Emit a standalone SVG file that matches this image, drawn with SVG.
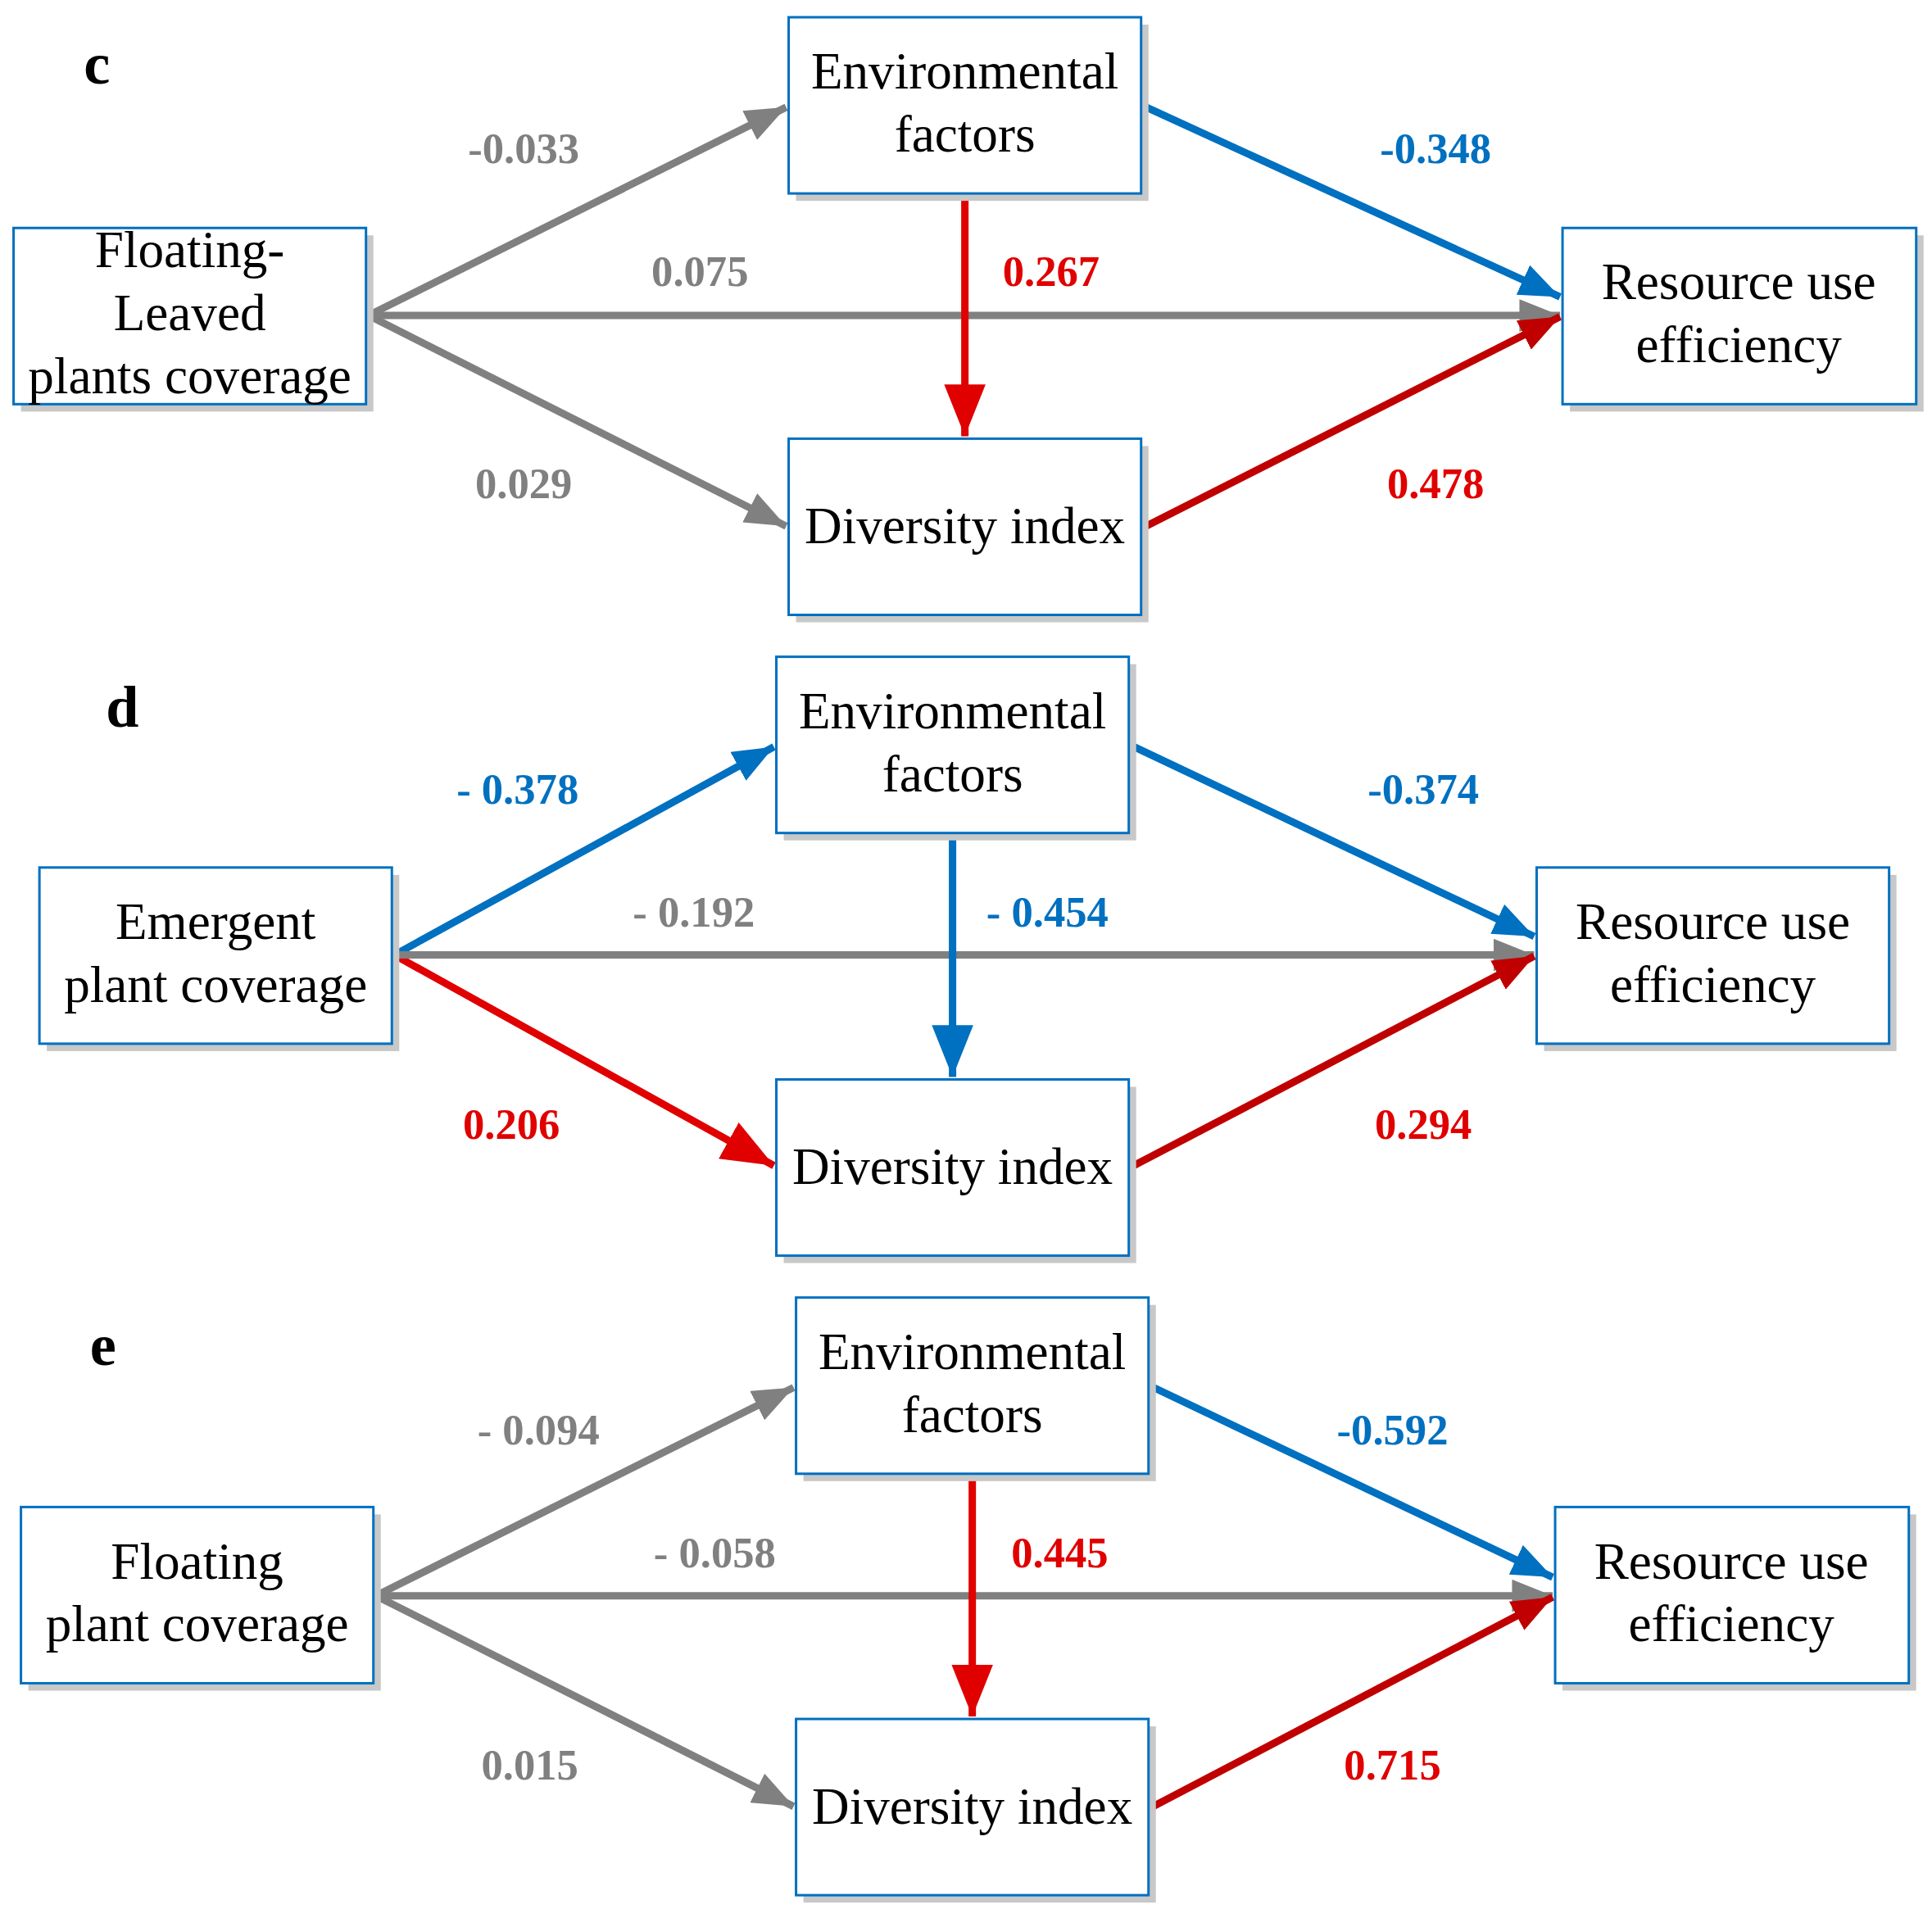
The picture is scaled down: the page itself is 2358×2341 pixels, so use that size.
<svg xmlns="http://www.w3.org/2000/svg" width="2358" height="2341" viewBox="0 0 2358 2341">
<style>
.box{fill:#fff;stroke:#0070C0;stroke-width:2}
.sh{fill:#c8c8c8}
.nt{font-family:"Liberation Serif",serif;font-size:42px;text-anchor:middle;fill:#000}
.lb{font-family:"Liberation Serif",serif;font-size:35px;font-weight:bold;text-anchor:middle}
.pl{font-family:"Liberation Serif",serif;font-size:48px;font-weight:bold;fill:#000}
.g{fill:#808080}.b{fill:#0070C0}.r{fill:#E00000}.dr{fill:#C00000}
.a{fill:none;stroke-width:6}
</style>
<defs>
<marker id="mg" viewBox="0 0 10 8" refX="10" refY="4" markerWidth="5.5" markerHeight="4.4" orient="auto" markerUnits="strokeWidth"><path d="M0,0L10,4L0,8z" fill="#808080"/></marker>
<marker id="mb" viewBox="0 0 10 8" refX="10" refY="4" markerWidth="5.5" markerHeight="4.4" orient="auto" markerUnits="strokeWidth"><path d="M0,0L10,4L0,8z" fill="#0070C0"/></marker>
<marker id="mr" viewBox="0 0 10 8" refX="10" refY="4" markerWidth="5.5" markerHeight="4.4" orient="auto" markerUnits="strokeWidth"><path d="M0,0L10,4L0,8z" fill="#C00000"/></marker>
<marker id="mrv" viewBox="0 0 10 8" refX="10" refY="4" markerWidth="7" markerHeight="5.6" orient="auto" markerUnits="strokeWidth"><path d="M0,0L10,4L0,8z" fill="#E00000"/></marker>
<marker id="mbv" viewBox="0 0 10 8" refX="10" refY="4" markerWidth="7" markerHeight="5.6" orient="auto" markerUnits="strokeWidth"><path d="M0,0L10,4L0,8z" fill="#0070C0"/></marker>
</defs>
<rect width="2358" height="2341" fill="#fff"/>
<g transform="scale(1.504)">
<g id="connectors">
<line class="a" stroke="#808080" x1="299" y1="256" x2="638" y2="87" marker-end="url(#mg)"/>
<line class="a" stroke="#808080" x1="299" y1="256" x2="638" y2="427" marker-end="url(#mg)"/>
<line class="a" stroke="#808080" x1="299" y1="256" x2="1266" y2="256" marker-end="url(#mg)"/>
<line class="a" stroke="#0070C0" x1="928" y1="86" x2="1266" y2="241" marker-end="url(#mb)"/>
<line class="a" stroke="#C00000" x1="928" y1="428" x2="1266" y2="257" marker-end="url(#mr)"/>
<line class="a" stroke="#E00000" stroke-width="4.5" x1="783" y1="158" x2="783" y2="354" marker-end="url(#mrv)"/>
<line class="a" stroke="#0070C0" x1="320" y1="775" x2="628" y2="606" marker-end="url(#mb)"/>
<line class="a" stroke="#E00000" x1="320" y1="775" x2="628" y2="946" marker-end="url(#mrv)"/>
<line class="a" stroke="#808080" x1="320" y1="775" x2="1245" y2="775" marker-end="url(#mg)"/>
<line class="a" stroke="#0070C0" x1="918" y1="605" x2="1245" y2="760" marker-end="url(#mb)"/>
<line class="a" stroke="#C00000" x1="918" y1="947" x2="1245" y2="776" marker-end="url(#mr)"/>
<line class="a" stroke="#0070C0" stroke-width="4.5" x1="773" y1="677" x2="773" y2="874" marker-end="url(#mbv)"/>
<line class="a" stroke="#808080" x1="305" y1="1295" x2="644" y2="1126" marker-end="url(#mg)"/>
<line class="a" stroke="#808080" x1="305" y1="1295" x2="644" y2="1466" marker-end="url(#mg)"/>
<line class="a" stroke="#808080" x1="305" y1="1295" x2="1260" y2="1295" marker-end="url(#mg)"/>
<line class="a" stroke="#0070C0" x1="934" y1="1125" x2="1260" y2="1280" marker-end="url(#mb)"/>
<line class="a" stroke="#C00000" x1="934" y1="1467" x2="1260" y2="1296" marker-end="url(#mr)"/>
<line class="a" stroke="#E00000" stroke-width="4.5" x1="789" y1="1197" x2="789" y2="1393" marker-end="url(#mrv)"/>
</g>
<g id="labels">
<text class="pl" x="68" y="68">c</text>
<text class="pl" x="86" y="590">d</text>
<text class="pl" x="73" y="1108">e</text>
<text class="lb g" x="425" y="132">-0.033</text>
<text class="lb g" x="568" y="232">0.075</text>
<text class="lb g" x="425" y="404">0.029</text>
<text class="lb b" x="1165" y="132">-0.348</text>
<text class="lb r" x="853" y="232">0.267</text>
<text class="lb r" x="1165" y="404">0.478</text>
<text class="lb b" x="420" y="652">- 0.378</text>
<text class="lb g" x="563" y="752">- 0.192</text>
<text class="lb r" x="415" y="924">0.206</text>
<text class="lb b" x="1155" y="652">-0.374</text>
<text class="lb b" x="850" y="752">- 0.454</text>
<text class="lb r" x="1155" y="924">0.294</text>
<text class="lb g" x="437" y="1172">- 0.094</text>
<text class="lb g" x="580" y="1272">- 0.058</text>
<text class="lb g" x="430" y="1444">0.015</text>
<text class="lb b" x="1130" y="1172">-0.592</text>
<text class="lb r" x="860" y="1272">0.445</text>
<text class="lb r" x="1130" y="1444">0.715</text>
</g>
<g id="c-env"><rect class="sh" x="646" y="20" width="286" height="143"/><rect class="box" x="640" y="14" width="286" height="143"/><text class="nt" x="783" y="72">Environmental</text><text class="nt" x="783" y="123">factors</text></g>
<g id="c-div"><rect class="sh" x="646" y="362" width="286" height="143"/><rect class="box" x="640" y="356" width="286" height="143"/><text class="nt" x="783" y="441">Diversity index</text></g>
<g id="c-left"><rect class="sh" x="17" y="191" width="286" height="143"/><rect class="box" x="11" y="185" width="286" height="143"/><text class="nt" x="154" y="217">Floating-</text><text class="nt" x="154" y="268">Leaved</text><text class="nt" x="154" y="319">plants coverage</text></g>
<g id="c-right"><rect class="sh" x="1274" y="191" width="287" height="143"/><rect class="box" x="1268" y="185" width="287" height="143"/><text class="nt" x="1411" y="243">Resource use</text><text class="nt" x="1411" y="294">efficiency</text></g>
<g id="d-env"><rect class="sh" x="636" y="539" width="286" height="143"/><rect class="box" x="630" y="533" width="286" height="143"/><text class="nt" x="773" y="591">Environmental</text><text class="nt" x="773" y="642">factors</text></g>
<g id="d-div"><rect class="sh" x="636" y="882" width="286" height="143"/><rect class="box" x="630" y="876" width="286" height="143"/><text class="nt" x="773" y="961">Diversity index</text></g>
<g id="d-left"><rect class="sh" x="38" y="710" width="286" height="143"/><rect class="box" x="32" y="704" width="286" height="143"/><text class="nt" x="175" y="762">Emergent</text><text class="nt" x="175" y="813">plant coverage</text></g>
<g id="d-right"><rect class="sh" x="1253" y="710" width="286" height="143"/><rect class="box" x="1247" y="704" width="286" height="143"/><text class="nt" x="1390" y="762">Resource use</text><text class="nt" x="1390" y="813">efficiency</text></g>
<g id="e-env"><rect class="sh" x="652" y="1059" width="286" height="143"/><rect class="box" x="646" y="1053" width="286" height="143"/><text class="nt" x="789" y="1111">Environmental</text><text class="nt" x="789" y="1162">factors</text></g>
<g id="e-div"><rect class="sh" x="652" y="1401" width="286" height="143"/><rect class="box" x="646" y="1395" width="286" height="143"/><text class="nt" x="789" y="1480">Diversity index</text></g>
<g id="e-left"><rect class="sh" x="23" y="1229" width="286" height="143"/><rect class="box" x="17" y="1223" width="286" height="143"/><text class="nt" x="160" y="1281">Floating</text><text class="nt" x="160" y="1332">plant coverage</text></g>
<g id="e-right"><rect class="sh" x="1268" y="1229" width="287" height="143"/><rect class="box" x="1262" y="1223" width="287" height="143"/><text class="nt" x="1405" y="1281">Resource use</text><text class="nt" x="1405" y="1332">efficiency</text></g>
</g>
</svg>
